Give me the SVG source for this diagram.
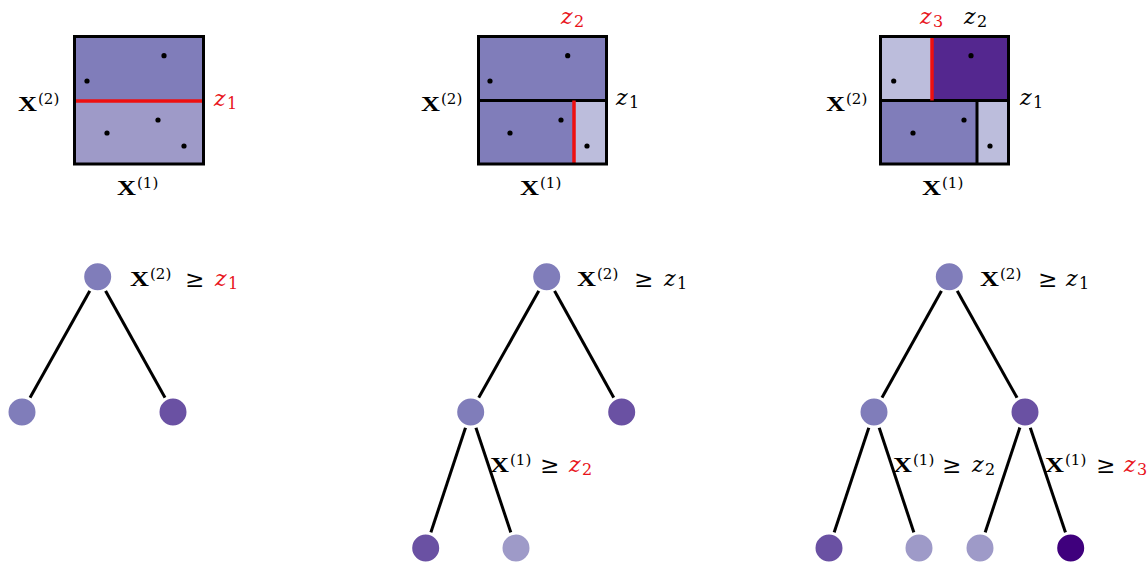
<svg xmlns="http://www.w3.org/2000/svg" width="1148" height="565" viewBox="0 0 1148 565">
<style>
.X{font-family:"Liberation Serif",serif;font-weight:bold;font-size:22px;fill:#000}
.sup{font-family:"DejaVu Serif",serif;font-size:15px;fill:#000}
.z{font-family:"DejaVu Serif",serif;font-style:italic;font-size:22px;fill:#000}
.sub{font-family:"DejaVu Serif",serif;font-size:16px;fill:#000}
.ge{font-family:"DejaVu Serif",serif;font-size:23px;fill:#000}
.red{fill:#e8121a}
.frame{fill:none;stroke:#000;stroke-width:3}
.div{stroke:#000;stroke-width:3}
.cut{stroke:#ee1010;stroke-width:3.5}
.dot{fill:#000}
.edge{stroke:#000;stroke-width:3;fill:none}
.node{stroke:#fff;stroke-width:3}
.c1{fill:#bcbddc}.c2{fill:#9e9ac8}.c3{fill:#807dba}.c4{fill:#6a51a3}.c5{fill:#54278f}.c6{fill:#3f007d}
</style>

<g id="panel1">
<rect class="c3" x="75" y="37" width="128" height="64"/>
<rect class="c2" x="75" y="101" width="128" height="63"/>
<line class="cut" x1="75" y1="101" x2="203" y2="101"/>
<rect class="frame" x="74.5" y="36.5" width="129" height="127.5"/>
<circle class="dot" cx="164" cy="55.7" r="2.6"/>
<circle class="dot" cx="87" cy="81" r="2.6"/>
<circle class="dot" cx="158" cy="120" r="2.6"/>
<circle class="dot" cx="107" cy="133" r="2.6"/>
<circle class="dot" cx="184" cy="146" r="2.6"/>
<text class="X" x="18" y="111" textLength="19" lengthAdjust="spacingAndGlyphs">X</text><text class="sup" x="38" y="104">(2)</text>
<text class="z red" x="214" y="106">z</text><text class="sub red" x="227" y="109">1</text>
<text class="X" x="117" y="195" textLength="19" lengthAdjust="spacingAndGlyphs">X</text><text class="sup" x="137" y="188">(1)</text>
</g>

<g id="panel2">
<rect class="c3" x="479" y="37" width="127" height="127"/>
<rect class="c1" x="574" y="101" width="32" height="63"/>
<line class="div" x1="479" y1="100.5" x2="606" y2="100.5"/>
<line class="cut" x1="574" y1="100.5" x2="574" y2="164"/>
<rect class="frame" x="478.5" y="36.5" width="128" height="127.5"/>
<circle class="dot" cx="567.7" cy="55.7" r="2.6"/>
<circle class="dot" cx="490" cy="81" r="2.6"/>
<circle class="dot" cx="561" cy="120" r="2.6"/>
<circle class="dot" cx="510" cy="133" r="2.6"/>
<circle class="dot" cx="587" cy="146" r="2.6"/>
<text class="z red" x="561" y="24">z</text><text class="sub red" x="574" y="27">2</text>
<text class="X" x="421" y="111" textLength="19" lengthAdjust="spacingAndGlyphs">X</text><text class="sup" x="441" y="104">(2)</text>
<text class="z" x="616" y="105">z</text><text class="sub" x="629" y="108">1</text>
<text class="X" x="520" y="195" textLength="19" lengthAdjust="spacingAndGlyphs">X</text><text class="sup" x="540" y="188">(1)</text>
</g>

<g id="panel3">
<rect class="c1" x="881" y="37" width="51" height="64"/>
<rect class="c5" x="932" y="37" width="76" height="64"/>
<rect class="c3" x="881" y="101" width="96" height="63"/>
<rect class="c1" x="977" y="101" width="31" height="63"/>
<line class="div" x1="881" y1="100.5" x2="1008" y2="100.5"/>
<line class="div" x1="977" y1="100.5" x2="977" y2="164"/>
<line class="cut" x1="932" y1="37" x2="932" y2="100.5"/>
<rect class="frame" x="880.5" y="36.5" width="128" height="127.5"/>
<circle class="dot" cx="971" cy="55.7" r="2.6"/>
<circle class="dot" cx="893.7" cy="81" r="2.6"/>
<circle class="dot" cx="964" cy="120" r="2.6"/>
<circle class="dot" cx="913" cy="133" r="2.6"/>
<circle class="dot" cx="990" cy="146" r="2.6"/>
<text class="z red" x="920" y="24">z</text><text class="sub red" x="933" y="27">3</text>
<text class="z" x="964" y="24">z</text><text class="sub" x="977" y="27">2</text>
<text class="X" x="826" y="111" textLength="19" lengthAdjust="spacingAndGlyphs">X</text><text class="sup" x="846" y="104">(2)</text>
<text class="z" x="1020" y="105">z</text><text class="sub" x="1033" y="108">1</text>
<text class="X" x="922" y="195" textLength="19" lengthAdjust="spacingAndGlyphs">X</text><text class="sup" x="942" y="188">(1)</text>
</g>

<g id="connectors">
<line class="edge" x1="97.7" y1="276.7" x2="22" y2="412"/>
<line class="edge" x1="97.7" y1="276.7" x2="173" y2="412"/>
<line class="edge" x1="546.7" y1="276.7" x2="470.7" y2="412"/>
<line class="edge" x1="546.7" y1="276.7" x2="621.7" y2="412"/>
<line class="edge" x1="470.7" y1="412" x2="425.7" y2="548"/>
<line class="edge" x1="470.7" y1="412" x2="516" y2="548"/>
<line class="edge" x1="949.3" y1="276.7" x2="874" y2="412"/>
<line class="edge" x1="949.3" y1="276.7" x2="1025" y2="412"/>
<line class="edge" x1="874" y1="412" x2="829" y2="548"/>
<line class="edge" x1="874" y1="412" x2="919" y2="548"/>
<line class="edge" x1="1025" y1="412" x2="980" y2="548"/>
<line class="edge" x1="1025" y1="412" x2="1070.7" y2="548"/>
</g>

<g id="t1-root"><circle class="node c3" cx="97.7" cy="276.7" r="15"/>
<text class="X" x="130" y="286" textLength="19" lengthAdjust="spacingAndGlyphs">X</text><text class="sup" x="150" y="279">(2)</text><text class="ge" x="185" y="287">≥</text><text class="z red" x="215" y="286">z</text><text class="sub red" x="228" y="289">1</text></g>
<g id="t1-left"><circle class="node c3" cx="22" cy="412" r="15"/></g>
<g id="t1-right"><circle class="node c4" cx="173" cy="412" r="15"/></g>

<g id="t2-root"><circle class="node c3" cx="546.7" cy="276.7" r="15"/>
<text class="X" x="577" y="286" textLength="19" lengthAdjust="spacingAndGlyphs">X</text><text class="sup" x="597" y="279">(2)</text><text class="ge" x="634" y="287">≥</text><text class="z" x="664" y="286">z</text><text class="sub" x="677" y="289">1</text></g>
<g id="t2-left"><circle class="node c3" cx="470.7" cy="412" r="15"/>
<text class="X" x="490" y="472" textLength="19" lengthAdjust="spacingAndGlyphs">X</text><text class="sup" x="510" y="465">(1)</text><text class="ge" x="540" y="473">≥</text><text class="z red" x="569" y="472">z</text><text class="sub red" x="582" y="475">2</text></g>
<g id="t2-right"><circle class="node c4" cx="621.7" cy="412" r="15"/></g>
<g id="t2-ll"><circle class="node c4" cx="425.7" cy="548" r="15"/></g>
<g id="t2-lr"><circle class="node c2" cx="516" cy="548" r="15"/></g>

<g id="t3-root"><circle class="node c3" cx="949.3" cy="276.7" r="15"/>
<text class="X" x="980" y="286" textLength="19" lengthAdjust="spacingAndGlyphs">X</text><text class="sup" x="1000" y="279">(2)</text><text class="ge" x="1038" y="287">≥</text><text class="z" x="1066" y="286">z</text><text class="sub" x="1079" y="289">1</text></g>
<g id="t3-left"><circle class="node c3" cx="874" cy="412" r="15"/>
<text class="X" x="893" y="472" textLength="19" lengthAdjust="spacingAndGlyphs">X</text><text class="sup" x="913" y="465">(1)</text><text class="ge" x="942" y="473">≥</text><text class="z" x="972" y="472">z</text><text class="sub" x="985" y="475">2</text></g>
<g id="t3-right"><circle class="node c4" cx="1025" cy="412" r="15"/>
<text class="X" x="1045" y="472" textLength="19" lengthAdjust="spacingAndGlyphs">X</text><text class="sup" x="1065" y="465">(1)</text><text class="ge" x="1096" y="473">≥</text><text class="z red" x="1124" y="472">z</text><text class="sub red" x="1137" y="475">3</text></g>
<g id="t3-ll"><circle class="node c4" cx="829" cy="548" r="15"/></g>
<g id="t3-lr"><circle class="node c2" cx="919" cy="548" r="15"/></g>
<g id="t3-rl"><circle class="node c2" cx="980" cy="548" r="15"/></g>
<g id="t3-rr"><circle class="node c6" cx="1070.7" cy="548" r="15"/></g>
</svg>
